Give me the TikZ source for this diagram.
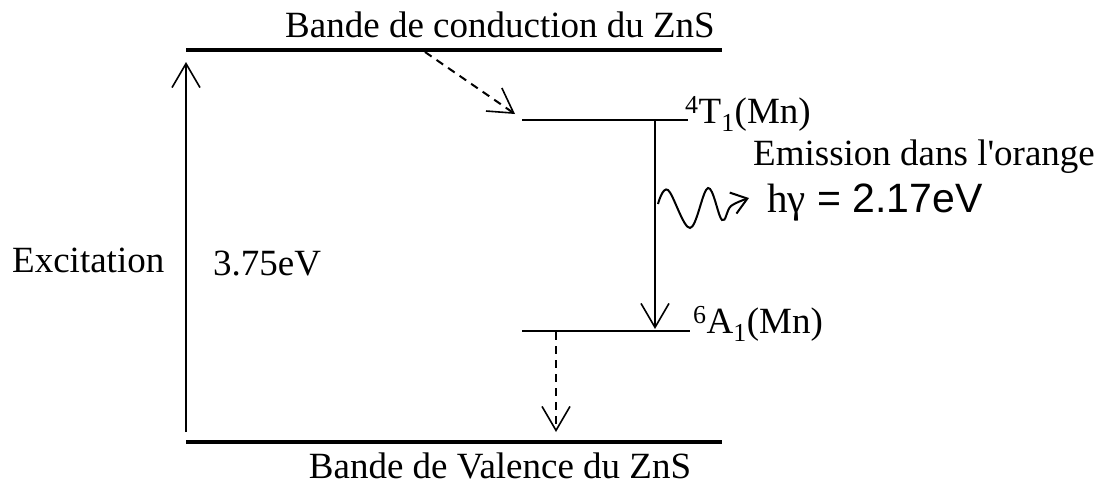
\documentclass[tikz,border=0pt]{standalone}
\usepackage{fontspec}
\setmainfont{Liberation Serif}
\newfontfamily\sansf{Liberation Sans}
\usetikzlibrary{arrows.meta}
\tikzset{
  band/.style={line width=4.5pt},
  level/.style={line width=1.6pt},
  arr/.style={line width=1.6pt,-{Straight Barb[length=24pt,width=28pt,line width=1.6pt]}},
  darr/.style={arr,line width=2pt,dash pattern=on 8pt off 6pt},
  wavearr/.style={line width=2pt,-{Straight Barb[length=15pt,width=22pt,line width=2pt]}},
  lbl/.style={inner sep=0pt,font=\fontsize{37}{44}\selectfont},
  big/.style={inner sep=0pt,font=\fontsize{41}{48}\selectfont}
}
\begin{document}
\begin{tikzpicture}[x=1pt,y=-1pt]
\useasboundingbox (0,0) rectangle (1102,491);
% band edges
\coordinate (cbL) at (186,50);
\coordinate (cbR) at (722,50);
\coordinate (vbL) at (186,442);
\coordinate (vbR) at (722,442);
\draw[band] (cbL) -- (cbR);
\draw[band] (vbL) -- (vbR);
% Mn levels
\coordinate (tL) at (522,120);
\coordinate (tR) at (688,120);
\coordinate (aL) at (522,331);
\coordinate (aR) at (690,331);
\draw[level] (tL) -- (tR);
\draw[level] (aL) -- (aR);
% labels
\node[lbl,anchor=base] (cbtxt) at (500,37) {Bande de conduction du ZnS};
\node[lbl,anchor=base] (vbtxt) at (500,478) {Bande de Valence du ZnS};
\node[lbl,anchor=base west] (T1) at (685,123) {\textsuperscript{4}T\textsubscript{1}(Mn)};
\node[lbl,anchor=base west] (A1) at (693,333) {\textsuperscript{6}A\textsubscript{1}(Mn)};
\node[lbl,anchor=base west] (exc) at (12,272) {Excitation};
\node[lbl,anchor=base west] (gap) at (213,275) {3.75eV};
\node[lbl,anchor=base west] (emi) at (753,165) {Emission dans l\textquotesingle orange};
\node[big,anchor=base west] (hg) at (767,212) {hγ{\sansf\ = 2.17eV}};
% excitation arrow
\coordinate (exS) at (186,432);
\coordinate (exE) at (186,62);
\draw[arr] (exS) -- (exE);
% relaxation into T1
\coordinate (d1S) at (425,52);
\coordinate (d1E) at (515,114);
\draw[darr] (d1S) -- (d1E);
% radiative transition
\coordinate (rS) at (655,121);
\coordinate (rE) at (655,329);
\draw[arr] (rS) -- (rE);
% relaxation from A1
\coordinate (d2S) at (556,332);
\coordinate (d2E) at (556,432);
\draw[darr] (d2S) -- (d2E);
% photon
\draw[wavearr] plot[smooth,tension=0.6] coordinates {(658,204) (668,190) (690,228) (708,188) (722,220) (731,206) (749,198)};
\end{tikzpicture}
\end{document}
